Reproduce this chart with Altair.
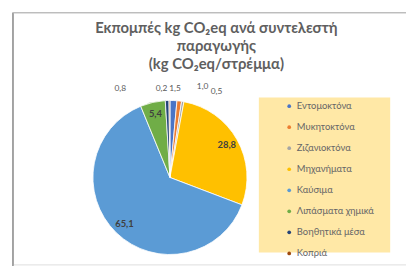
import altair as alt
import pandas as pd

categories = ["Εντομοκτόνα", "Μυκητοκτόνα", "Ζιζανιοκτόνα", "Μηχανήματα",
              "Καύσιμα", "Λιπάσματα χημικά", "Βοηθητικά μέσα", "Κοπριά"]
values = [1.5, 1.0, 0.5, 28.8, 65.1, 5.4, 0.8, 0.2]
colors = ["#4A74C6", "#ED7D31", "#A5A5A5", "#FFC000",
          "#5B9BD5", "#70AD47", "#264478", "#9E480E"]
title_lines = ["Εκπομπές kg CO₂eq ανά συντελεστή", "παραγωγής", "(kg CO₂eq/στρέμμα)"]

inside = ["Μηχανήματα", "Καύσιμα", "Λιπάσματα χημικά"]
total = sum(values)

df = pd.DataFrame({
    "category": categories,
    "value": values,
    "order": list(range(len(categories))),
    "label": [f"{v:.1f}".replace(".", ",") for v in values],
})

CX, CY, R = 159, 167, 78
W, H = 398, 255

base = alt.Chart(df)
one = pd.DataFrame({"a": [0]})

frame_left = alt.Chart(one).mark_rule(color="#8c8c8c", strokeWidth=1.5).encode(
    x=alt.value(0), y=alt.value(0), y2=alt.value(H + 10))
frame_top = alt.Chart(one).mark_rule(color="#bdbdbd", strokeWidth=1.2).encode(
    x=alt.value(0), x2=alt.value(W + 10), y=alt.value(0))

title = alt.Chart(one).mark_text(
    text=title_lines, font="Lato", fontSize=15, fontWeight="bold", color="#5f5f5f",
    lineHeight=18, align="center", baseline="middle"
).encode(x=alt.value(206), y=alt.value(16))

legend_box = alt.Chart(one).mark_rect(color="#FFE8A6").encode(
    x=alt.value(249), x2=alt.value(382), y=alt.value(86), y2=alt.value(243))

arcs = base.mark_arc(outerRadius=R, stroke="white", strokeWidth=0.8).encode(
    theta=alt.Theta("value:Q", stack=True),
    order=alt.Order("order:Q"),
    color=alt.Color("category:N", sort=categories,
                    scale=alt.Scale(domain=categories, range=colors),
                    legend=alt.Legend(title=None, orient="none", legendX=275, legendY=90,
                                      symbolType="circle", symbolSize=14, labelFont="Lato",
                                      labelFontSize=9.5, labelColor="#666666", rowPadding=10.3,
                                      padding=0, symbolStrokeWidth=0, labelOffset=3)),
    x=alt.value(CX), y=alt.value(CY),
)

theta_mid = alt.Theta("mid:Q", scale=alt.Scale(domain=[0, total]))

labeled = base.transform_window(
    cum="sum(value)", sort=[alt.SortField("order")], frame=[None, 0]
).transform_calculate(mid="datum.cum - datum.value / 2")

inner_labels = labeled.transform_filter(
    alt.FieldOneOfPredicate(field="category", oneOf=inside)
).mark_text(radius=66, font="Lato", fontSize=9.5, fontWeight="bold", color="#404040").encode(
    theta=theta_mid, text="label:N", x=alt.value(CX), y=alt.value(CY))

small_dx = {"Βοηθητικά μέσα": (-47, 0), "Κοπριά": (-8, 0), "Εντομοκτόνα": (1, 0),
            "Μυκητοκτόνα": (22, -2), "Ζιζανιοκτόνα": (32, 2)}
small_layers = []
for cat, (ddx, ddy) in small_dx.items():
    small_layers.append(
        labeled.transform_filter(alt.datum.category == cat).mark_text(
            radius=R + 13, font="Lato", fontSize=8.5, color="#595959",
            dx=ddx, dy=ddy
        ).encode(theta=theta_mid, text="label:N", x=alt.value(CX), y=alt.value(CY))
    )

chart = alt.layer(frame_left, frame_top, title, legend_box, arcs, inner_labels, *small_layers).properties(
    width=W, height=H, padding={"left": 5, "top": 3, "right": 0, "bottom": 0},
    autosize=alt.AutoSizeParams(type="none")
).configure_view(stroke=None).configure(background="white")

chart.save("out.html", embed_options={"renderer": "svg", "actions": False})
